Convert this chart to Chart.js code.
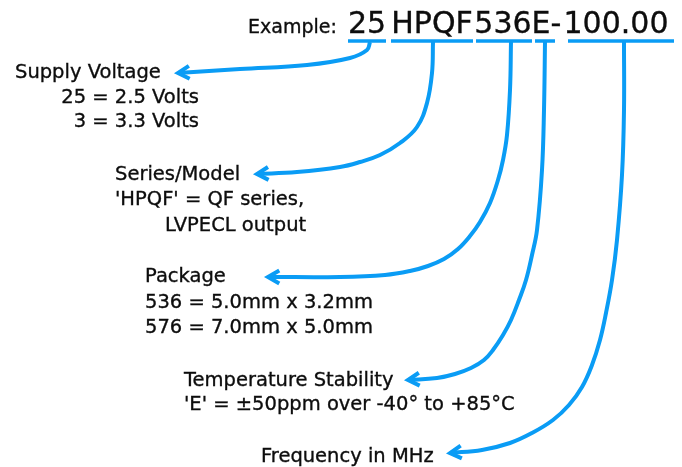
<!DOCTYPE html>
<html>
<head>
<meta charset="utf-8">
<script src="https://cdn.jsdelivr.net/npm/chart.js@4.4.1/dist/chart.umd.min.js"></script>
<style>
    html, body { margin: 0; padding: 0; background: #fff; }
    #wrap { width: 682px; height: 467px; position: relative; }
</style>
</head>
<body>
<div id="wrap"><canvas id="partChart"></canvas></div>
<script>
// Part number broken into its fields, plus what each field means.
const partCodes   = ['25', 'HPQF', '536', 'E', '100.00'];
const fieldTitles = ['Supply Voltage', 'Series/Model', 'Package', 'Temperature Stability', 'Frequency in MHz'];
const fieldLines  = [
    ['25 = 2.5 Volts', '3 = 3.3 Volts'],
    ["'HPQF' = QF series,", 'LVPECL output'],
    ['536 = 5.0mm x 3.2mm', '576 = 7.0mm x 5.0mm'],
    ["'E' = ±50ppm over -40° to +85°C"],
    [],
];

// Underline under each field of the part number (x from, x to).
const underlineSpans = [[348, 386], [391, 473], [476, 532], [535, 555], [568, 674]];
const underlineY = 41;

// Leader curves, from the underline down to the description.
const supplyLeader    = [[370, 42], [367, 50], [350, 58], [307, 65], [240, 69], [178, 73]];
const seriesLeader    = [[433, 42], [432, 73], [427, 103], [417, 127], [400, 143], [380, 155], [360, 162], [340, 167], [297, 172], [257, 174]];
const packageLeader   = [[511, 42], [510, 90], [507, 135], [503, 160], [498, 180], [490, 203], [480, 222], [470, 236], [458, 249],
                         [444, 259], [428, 266], [410, 271], [385, 275], [340, 277], [268, 277]];
const stabilityLeader = [[545, 42], [544, 110], [542, 170], [537, 230], [532, 255], [526, 280], [519, 300], [511, 320], [503, 335],
                         [493, 350], [484, 360], [471, 368], [455, 374], [437, 378], [408, 380]];
const frequencyLeader = [[624, 42], [624, 110], [622, 175], [617, 240], [612, 280], [606, 313], [600, 340], [592, 365], [582, 387],
                         [569, 405], [553, 420], [532, 433], [510, 443], [482, 450], [450, 453]];

const leaders = [supplyLeader, seriesLeader, packageLeader, stabilityLeader, frequencyLeader];

// Where the text goes: [x, baseline, align] for the title then each line.
const textLayout = [
    [[15, 78, 'left'], [199, 103, 'right'], [199, 127, 'right']],
    [[115, 180, 'left'], [115, 205, 'left'], [165, 231, 'left']],
    [[145, 282, 'left'], [145, 308, 'left'], [145, 333, 'left']],
    [[184, 386, 'left'], [184, 410, 'left']],
    [[261, 462, 'left']],
];
// centre of each part-number chunk, and the dash
const codeCentres = [367, 432, 503, 541, 616];
const dashCentre = 556;

const BLUE = '#0a9cf5';
const INK = '#0d0d0d';
const FONT = '"DejaVu Sans", sans-serif';

const toPts = arr => arr.map(([x, y]) => ({ x, y }));

function arrowHead(path) {
    const [tx, ty] = path[path.length - 1];
    const [px, py] = path[path.length - 2];
    const ang = Math.atan2(ty - py, tx - px);
    const len = 13, spread = 0.52;
    return [
        { x: tx - len * Math.cos(ang - spread), y: ty - len * Math.sin(ang - spread) },
        { x: tx, y: ty },
        { x: tx - len * Math.cos(ang + spread), y: ty - len * Math.sin(ang + spread) },
    ];
}

const stroke = (data, extra) => Object.assign({
    data,
    borderColor: BLUE,
    borderWidth: 4,
    pointRadius: 0,
    pointHoverRadius: 0,
    fill: false,
    tension: 0,
    borderCapStyle: 'butt',
    borderJoinStyle: 'miter',
}, extra || {});

const datasets = [];
underlineSpans.forEach(([a, b]) => {
    datasets.push(stroke([{ x: a, y: underlineY }, { x: b, y: underlineY }], { borderWidth: 3.5 }));
});
leaders.forEach(path => {
    datasets.push(stroke(toPts(path), { tension: 0.4, borderJoinStyle: 'round' }));
    datasets.push(stroke(arrowHead(path)));
});

const textPlugin = {
    id: 'partText',
    afterDatasetsDraw(chart) {
        const { ctx, scales: { x, y } } = chart;
        ctx.save();
        ctx.fillStyle = INK;
        ctx.strokeStyle = INK;
        ctx.lineWidth = 0.35;
        ctx.textBaseline = 'alphabetic';
        const put = (txt, px, py) => {
            const X = x.getPixelForValue(px), Y = y.getPixelForValue(py);
            ctx.fillText(txt, X, Y);
            ctx.strokeText(txt, X, Y);
        };

        // header
        ctx.font = `19px ${FONT}`;
        ctx.textAlign = 'left';
        put('Example:', 248, 33);

        ctx.font = `30px ${FONT}`;
        ctx.textAlign = 'center';
        partCodes.forEach((code, i) => put(code, codeCentres[i], 33));
        put('-', dashCentre, 33);

        // field descriptions
        ctx.font = `19.5px ${FONT}`;
        fieldTitles.forEach((title, i) => {
            const lines = [title].concat(fieldLines[i]);
            lines.forEach((txt, j) => {
                const [lx, ly, align] = textLayout[i][j];
                ctx.textAlign = align;
                put(txt, lx, ly);
            });
        });
        ctx.restore();
    },
};

new Chart(document.getElementById('partChart'), {
    type: 'line',
    data: { datasets },
    options: {
        responsive: true,
        maintainAspectRatio: false,
        animation: false,
        events: [],
        layout: { padding: 0, autoPadding: false },
        plugins: {
            legend: { display: false },
            tooltip: { enabled: false },
        },
        elements: { line: { capBezierPoints: false } },
        scales: {
            x: { type: 'linear', min: 0, max: 682, display: false },
            y: { type: 'linear', min: 0, max: 467, reverse: true, display: false },
        },
    },
    plugins: [textPlugin],
});
</script>
</body>
</html>
